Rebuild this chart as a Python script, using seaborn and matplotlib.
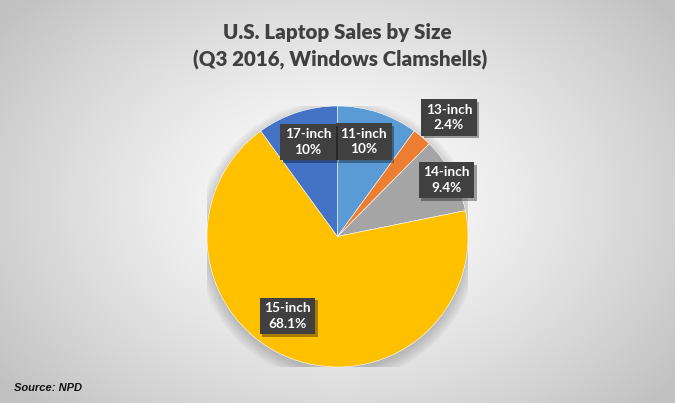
import numpy as np
import matplotlib
matplotlib.use("Agg")
import matplotlib.pyplot as plt
import matplotlib.patheffects as pe
import seaborn as sns
from matplotlib.patches import Circle

sizes = ["11-inch", "13-inch", "14-inch", "15-inch", "17-inch"]
shares = [10.0, 2.4, 9.4, 68.1, 10.0]
share_labels = ["10%", "2.4%", "9.4%", "68.1%", "10%"]
colors = ["#5B9BD5", "#ED7D31", "#A5A5A5", "#FFC000", "#4472C4"]

# label placement (radius as fraction of pie radius, angle nudge in degrees)
label_r = [0.755, 1.25, 0.94, 0.72, 0.76]
label_nudge = [2.5, -2.7, -1.0, -11.0, -0.7]

sns.set_style("white")
plt.rcParams["font.family"] = ["Lato", "DejaVu Sans"]

W, H = 675, 403
fig = plt.figure(figsize=(W / 100, H / 100), dpi=100)

# radial gradient background
bg = fig.add_axes([0, 0, 1, 1])
yy, xx = np.mgrid[0:H, 0:W]
d = np.sqrt(((xx - 337) / 420.0) ** 2 + ((yy - 200) / 300.0) ** 2)
shade = 1.0 - 0.24 * np.clip(d, 0, 1) ** 1.3
bg.imshow(np.dstack([shade] * 3), extent=[0, W, H, 0], aspect="auto")
bg.set_axis_off()

cx, cy, R = 337.5, 236.5, 130.5
ax = fig.add_axes([(cx - R) / W, (H - cy - R) / H, 2 * R / W, 2 * R / H])

wedges, _ = ax.pie(shares, colors=colors, startangle=90, counterclock=False,
                   radius=1.0, wedgeprops=dict(edgecolor="white", linewidth=0.4))
for w in wedges:
    w.set_zorder(1)
ax.set_xlim(-1, 1)
ax.set_ylim(-1, 1)
ax.set_axis_off()

# soft shadow under pie
for k in range(8):
    ax.add_patch(Circle((0.0, -0.03), 1.0 + 0.012 * k, color="black",
                        alpha=0.025, lw=0, zorder=0))

for w, name, lab, r, nud in zip(wedges, sizes, share_labels, label_r, label_nudge):
    ang = np.deg2rad((w.theta1 + w.theta2) / 2 + nud)
    x, y = r * np.cos(ang), r * np.sin(ang)
    t = ax.text(x, y, f"{name}\n{lab}", ha="center", va="center", fontsize=9.8,
                fontweight="bold", color="white", linespacing=1.35, zorder=4,
                bbox=dict(boxstyle="square,pad=0.33", fc="#404040", ec="none"))
    t.get_bbox_patch().set_path_effects(
        [pe.SimplePatchShadow(offset=(2, -2), shadow_rgbFace="black", alpha=0.35), pe.Normal()])

fig.text(337 / W, 1 - 33 / H, "U.S. Laptop Sales by Size", ha="center", va="center",
         fontsize=14.8, fontweight="heavy", color="#404040")
fig.text(340 / W, 1 - 60 / H, "(Q3 2016, Windows Clamshells)", ha="center", va="center",
         fontsize=14.8, fontweight="heavy", color="#404040")
fig.text(14 / W, 1 - 388 / H, "Source: NPD", ha="left", va="center", fontsize=8,
         fontweight="bold", fontstyle="italic", color="#111111",
         family=["Liberation Sans", "DejaVu Sans"])

fig.savefig("out.png", dpi=100)
